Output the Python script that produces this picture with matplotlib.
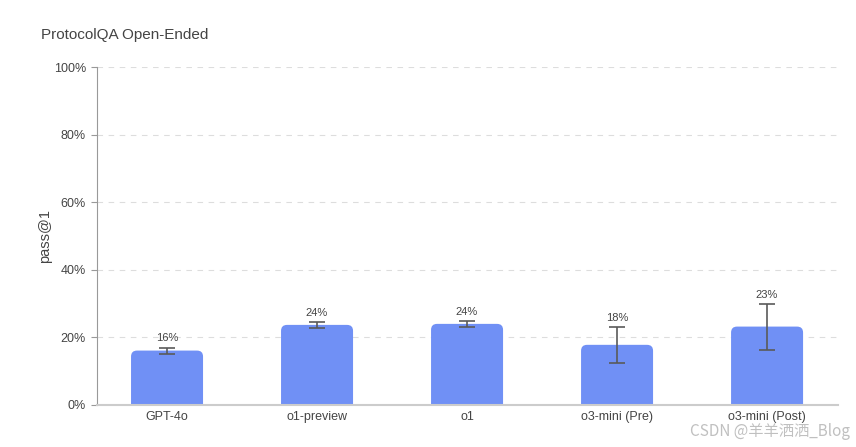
import matplotlib.pyplot as plt
import numpy as np
from matplotlib.patches import FancyBboxPatch

plt.rcParams['font.family'] = ['Liberation Sans', 'DejaVu Sans']

models = ['GPT-4o', 'o1-preview', 'o1', 'o3-mini (Pre)', 'o3-mini (Post)']
scores = [16.1, 23.7, 24.0, 17.8, 23.2]
err_low = [0.9, 0.8, 0.8, 5.4, 6.8]
err_high = [0.9, 0.9, 0.8, 5.4, 6.8]
labels = ['16%', '24%', '24%', '18%', '23%']

bar_color = '#7090f5'
txt = '#444444'

fig = plt.figure(figsize=(8.56, 4.47), dpi=100)
ax = fig.add_axes([0.1133, 0.094, 0.8657, 0.756])
ax.set_xlim(-0.467, 4.473)
ax.set_ylim(0, 100)

x = np.arange(len(models))
bars = ax.bar(x, scores, width=0.48, color=bar_color, zorder=2)
# swap plain bars for ones with rounded top corners
for b in bars:
    bx, by = b.get_x(), b.get_y()
    w, h = b.get_width(), b.get_height()
    b.set_visible(False)
    ax.add_patch(FancyBboxPatch((bx, by - 3), w, h + 3,
                                boxstyle='round,pad=0,rounding_size=0.04',
                                mutation_aspect=44, color=bar_color, zorder=2,
                                clip_on=True, linewidth=0))
ax.errorbar(x, scores, yerr=[err_low, err_high], fmt='none', ecolor='#5a5a5a',
            elinewidth=1.2, capsize=5.5, capthick=1.2, zorder=3)
for xi, s, e, lab in zip(x, scores, err_high, labels):
    ax.text(xi, s + e + 1.2, lab, ha='center', va='bottom', fontsize=8, color=txt)

ax.set_xticks(x)
ax.set_xticklabels(models, fontsize=9, color=txt)
ax.set_yticks([0, 20, 40, 60, 80, 100])
ax.set_yticklabels(['0%', '20%', '40%', '60%', '80%', '100%'], fontsize=9, color=txt)
ax.yaxis.grid(True, linestyle=(0, (5, 5)), color='#dddddd', linewidth=0.8, zorder=0)
ax.set_axisbelow(True)
for s in ['top', 'right']:
    ax.spines[s].set_visible(False)
ax.spines['left'].set_color('#999999')
ax.spines['left'].set_linewidth(0.8)
ax.spines['bottom'].set_color('#cccccc')
ax.spines['bottom'].set_linewidth(1.5)
ax.tick_params(axis='y', length=4, color='#999999', pad=4)
ax.tick_params(axis='x', length=0, pad=4)
ax.set_ylabel('pass@1', fontsize=10.5, color=txt)
ax.yaxis.set_label_coords(-0.06, 0.5)

fig.text(41 / 856, 1 - 35 / 447, 'ProtocolQA Open-Ended', fontsize=11, color=txt,
         ha='left', va='center')
fig.text(850 / 856, 1 - 432 / 447, 'CSDN @羊羊洒洒_Blog', fontsize=11, color='#c0c0c0',
         ha='right', va='center', family=['Noto Sans CJK SC', 'DejaVu Sans'])

fig.savefig('out.png', dpi=100)
